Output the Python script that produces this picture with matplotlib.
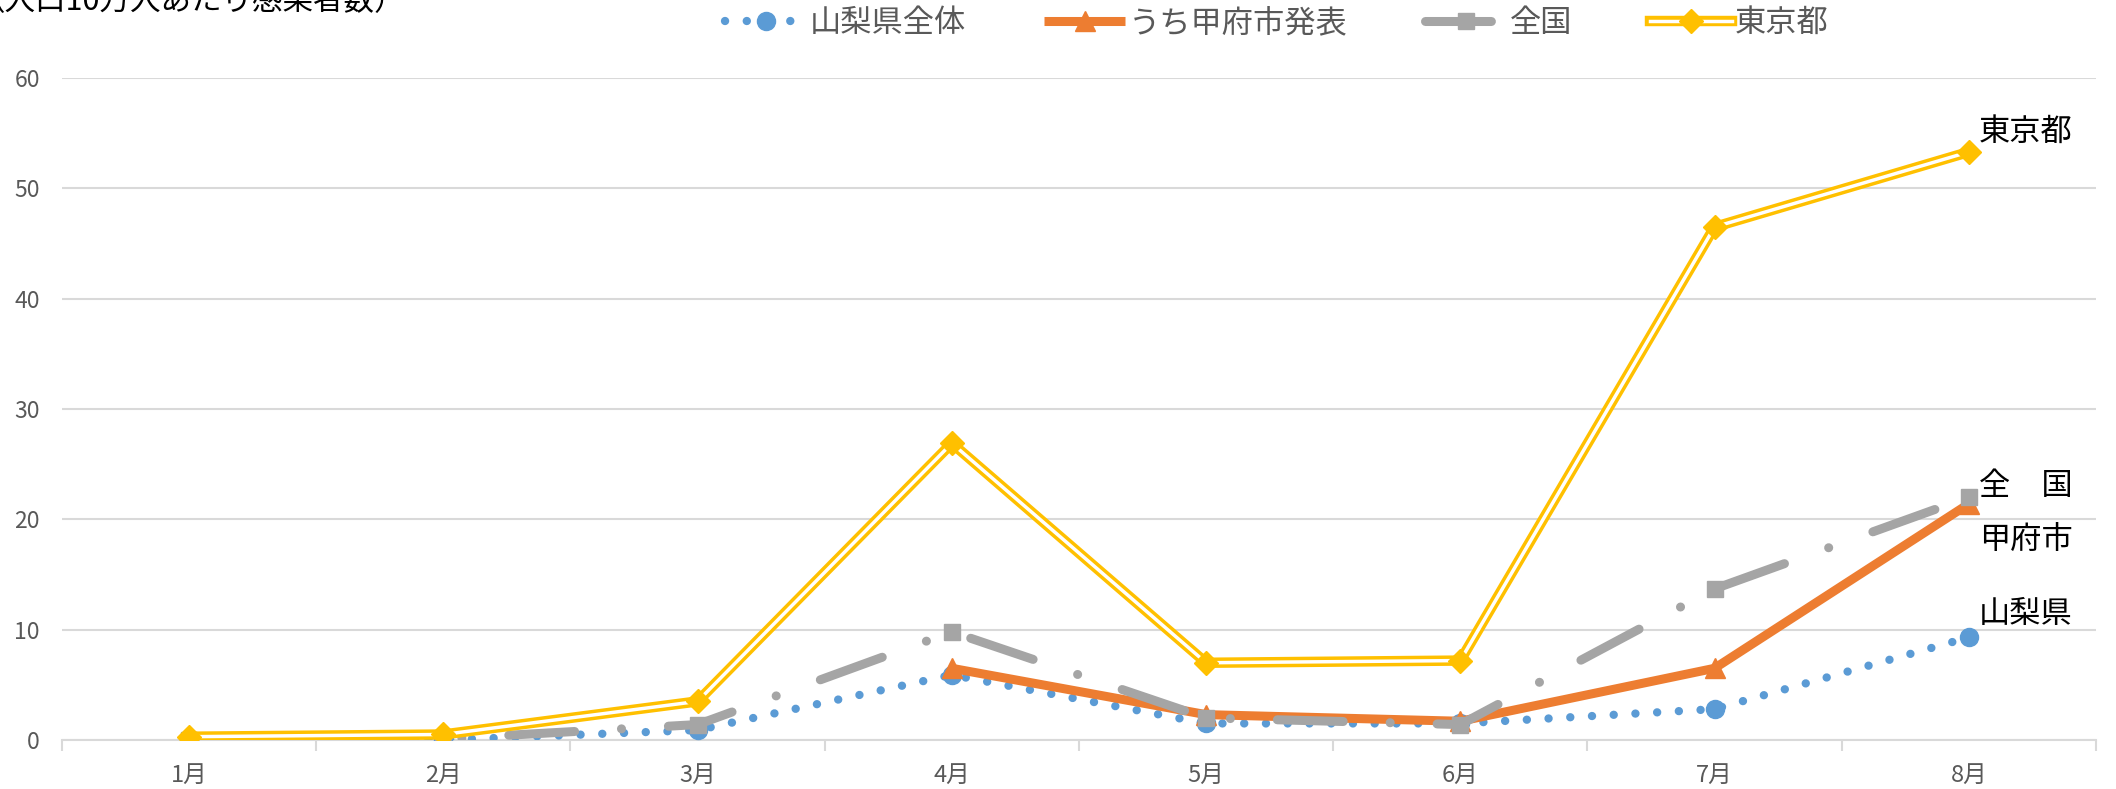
import matplotlib
matplotlib.use("Agg")
import matplotlib.pyplot as plt
import numpy as np

plt.rcParams["font.family"] = ["Noto Sans CJK JP", "DejaVu Sans"]

months = ["1月", "2月", "3月", "4月", "5月", "6月", "7月", "8月"]
yamanashi = [0.0, 0.0, 0.9, 5.9, 1.5, 1.5, 2.8, 9.3]
kofu = [None, None, None, 6.5, 2.3, 1.7, 6.5, 21.4]
zenkoku = [0.0, 0.1, 1.4, 9.8, 2.0, 1.4, 13.7, 22.0]
tokyo = [0.3, 0.5, 3.5, 26.9, 7.0, 7.2, 46.5, 53.3]

end_labels = ["東京都", "全　国", "甲府市", "山梨県"]
end_label_y = [55.1, 23.0, 18.1, 11.4]

BLUE = "#5B9BD5"
ORANGE = "#ED7D31"
GRAY = "#A5A5A5"
YELLOW = "#FFC000"
TEXT_GRAY = "#595959"

fig = plt.figure(figsize=(21.16, 7.89), dpi=100)
ax = fig.add_axes([0.0293, 0.0621, 0.9612, 0.839])

x = np.arange(len(months))
kofu_arr = np.array([np.nan if v is None else v for v in kofu], dtype=float)

# series in Excel order: blue, orange, gray, yellow
(l_blue,) = ax.plot(x, yamanashi, color=BLUE, lw=6, linestyle=(0, (0.01, 2.6)),
                    dash_capstyle="round", marker="o", ms=13, zorder=3)
(l_orange,) = ax.plot(x, kofu_arr, color=ORANGE, lw=6.5, solid_capstyle="butt",
                      marker="^", ms=14, zorder=4)
(l_gray,) = ax.plot(x, zenkoku, color=GRAY, lw=6.5, linestyle=(0, (7.3, 5.2, 0.01, 5.2)),
                    dash_capstyle="round", marker="s", ms=12, zorder=5)

# double line for Tokyo
(l_y_outer,) = ax.plot(x, tokyo, color=YELLOW, lw=7.5, zorder=6, solid_joinstyle="miter")
(l_y_inner,) = ax.plot(x, tokyo, color="white", lw=2.5, zorder=7, solid_joinstyle="miter")
(l_y_mark,) = ax.plot(x, tokyo, color=YELLOW, lw=0, marker="D", ms=12, zorder=8)

ax.set_xlim(-0.5, len(months) - 0.5)
ax.set_ylim(0, 60)
ax.set_yticks(np.arange(0, 61, 10))
ax.set_xticks(x)
ax.set_xticklabels(months)
ax.set_xticks(np.arange(-0.5, len(months), 1.0), minor=True)

ax.grid(axis="y", color="#D9D9D9", lw=1.5, zorder=0)
ax.set_axisbelow(True)
for side in ("top", "right", "left"):
    ax.spines[side].set_visible(False)
ax.spines["bottom"].set_color("#D9D9D9")
ax.spines["bottom"].set_linewidth(1.5)

ax.tick_params(axis="y", length=0, pad=16, labelsize=16.5, labelcolor=TEXT_GRAY)
ax.tick_params(axis="x", which="major", length=0, pad=17, labelsize=17, labelcolor=TEXT_GRAY)
ax.tick_params(axis="x", which="minor", length=8, width=1.5, color="#D9D9D9")

for lab, yv in zip(end_labels, end_label_y):
    ax.text(len(months) - 1 + 0.04, yv, lab, fontsize=22.5, color="black",
            ha="left", va="center", zorder=10)

handles = [l_blue, l_orange, l_gray, (l_y_outer, l_y_inner, l_y_mark)]
labels = ["山梨県全体", "うち甲府市発表", "全国", "東京都"]
leg = fig.legend(handles, labels, loc="center", bbox_to_anchor=(0.6035, 0.971), ncol=4,
                 frameon=False, fontsize=22.5, handlelength=2.6, handletextpad=0.1,
                 columnspacing=2.5, labelcolor=TEXT_GRAY)

fig.text(-0.012, 1 - 10 / 789, "（人口10万人あたり感染者数）", fontsize=22,
         color="black", ha="left", va="baseline")

fig.savefig("out.png", dpi=100)
